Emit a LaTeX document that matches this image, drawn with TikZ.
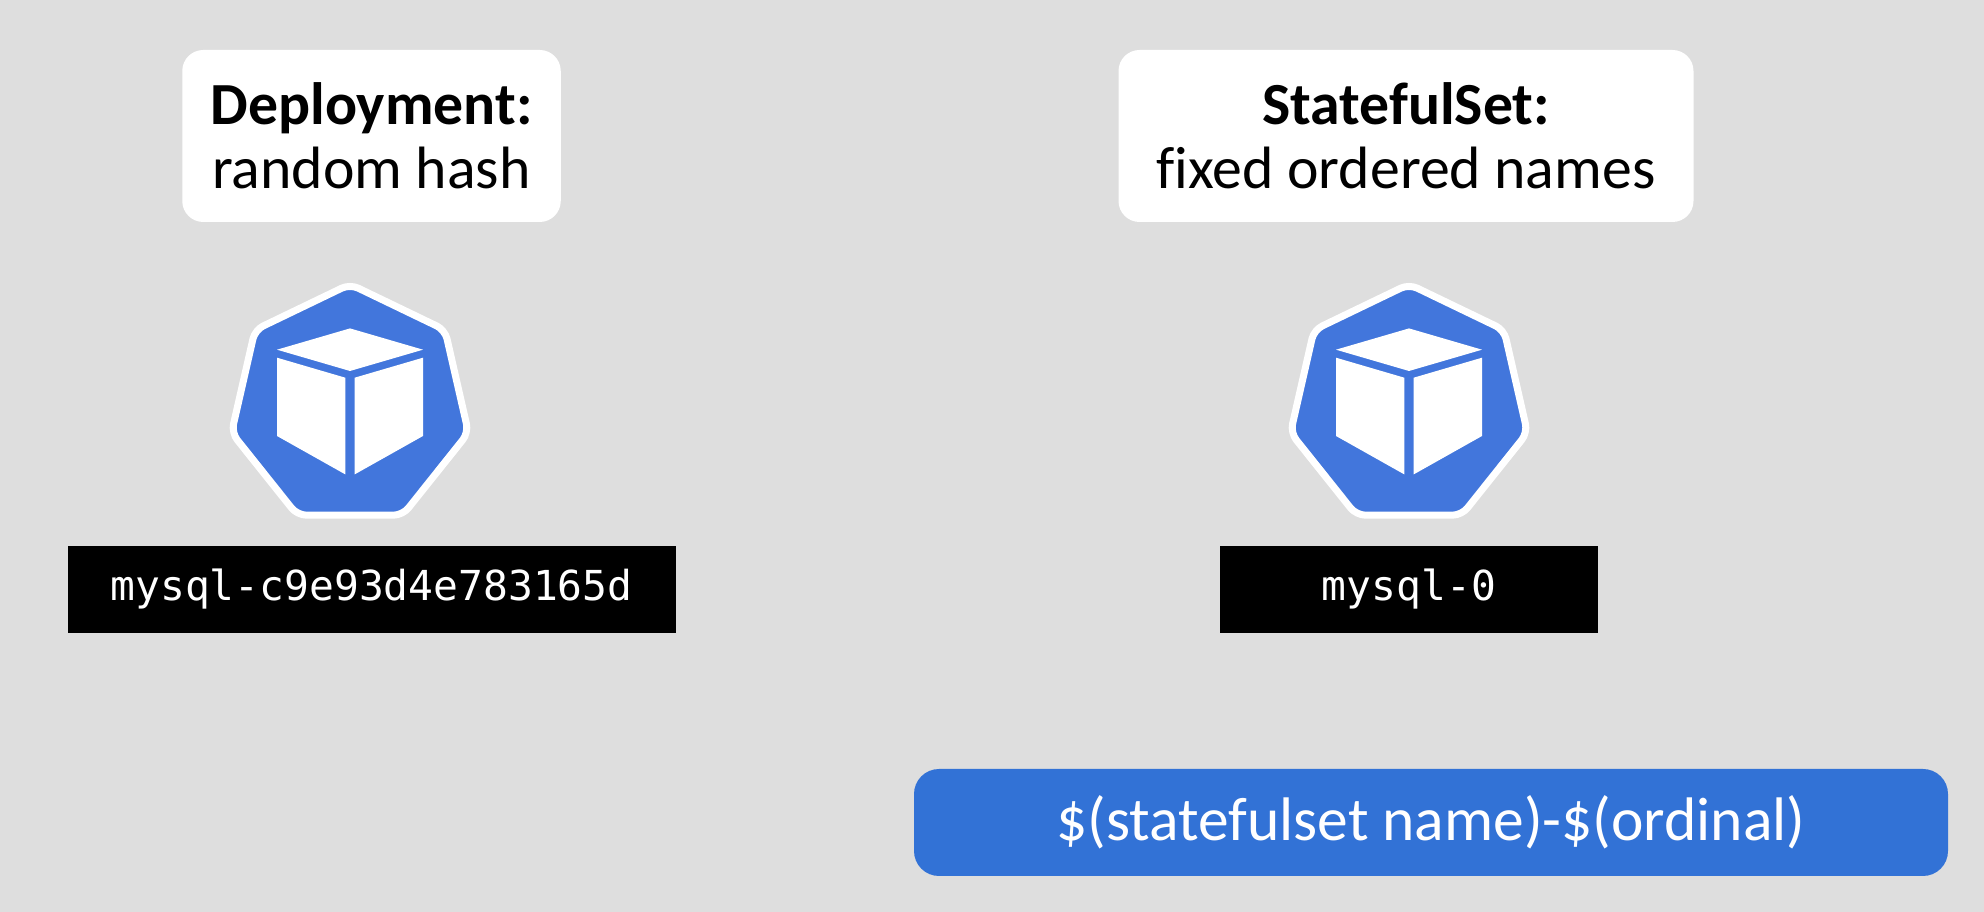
\documentclass[tikz,border=0pt]{standalone}
\usepackage{xcolor}
\usepackage{fontspec}
\setmainfont[Ligatures=NoCommon]{Carlito}
\setmonofont{DejaVu Sans Mono}
\usetikzlibrary{shapes.geometric}

\definecolor{slidegrey}{HTML}{DEDEDE}
\definecolor{podblue}{HTML}{4276DC}
\definecolor{barblue}{HTML}{3272D6}

\tikzset{
  titlebox/.style={fill=white, rounded corners=0.42cm, align=center, minimum height=3.44cm,
    font=\fontsize{34}{36.3}\selectfont},
  namebox/.style={fill=black, text=white, minimum height=1.74cm,
    font=\ttfamily\fontsize{23.5}{28}\selectfont},
  formulabox/.style={fill=barblue, text=white, rounded corners=0.5cm, minimum height=2.14cm,
    font=\fontsize{35}{40}\selectfont},
  podicon/.pic={
    \node[regular polygon, regular polygon sides=7, draw=white, fill=podblue, line width=0.14cm,
      rounded corners=0.18cm, inner sep=0pt, minimum size=4.86cm] (hept) at (0,0) {};
    \fill[white] (0,1.546) -- (1.46,1.12) -- (0,0.694) -- (-1.46,1.12) -- cycle;
    \fill[white] (-1.46,0.96) -- (-0.094,0.56) -- (-0.094,-1.374) -- (-1.46,-0.606) -- cycle;
    \fill[white] (1.46,0.96) -- (0.094,0.56) -- (0.094,-1.374) -- (1.46,-0.606) -- cycle;
  }
}

\begin{document}
\begin{tikzpicture}
\fill[slidegrey] (0,0) rectangle (39.68,18.24);
\useasboundingbox (0,0) rectangle (39.68,18.24);

\node[titlebox, minimum width=7.57cm] (deploy_title) at (7.43,15.52) {\textbf{Deployment:}\\random hash};
\node[titlebox, minimum width=11.5cm] (set_title) at (28.12,15.52) {\textbf{StatefulSet:}\\fixed ordered names};

\pic (deploy_pod) at (7.00,10.126) {podicon};
\pic (set_pod) at (28.18,10.126) {podicon};

\node[namebox, minimum width=12.16cm] (deploy_name) at (7.43,6.45) {mysql-c9e93d4e783165d};
\node[namebox, minimum width=7.56cm] (set_name) at (28.18,6.45) {mysql-0};

\node[formulabox, minimum width=20.68cm] (formula) at (28.62,1.79) {\$(statefulset name)-\$(ordinal)};

\end{tikzpicture}
\end{document}
